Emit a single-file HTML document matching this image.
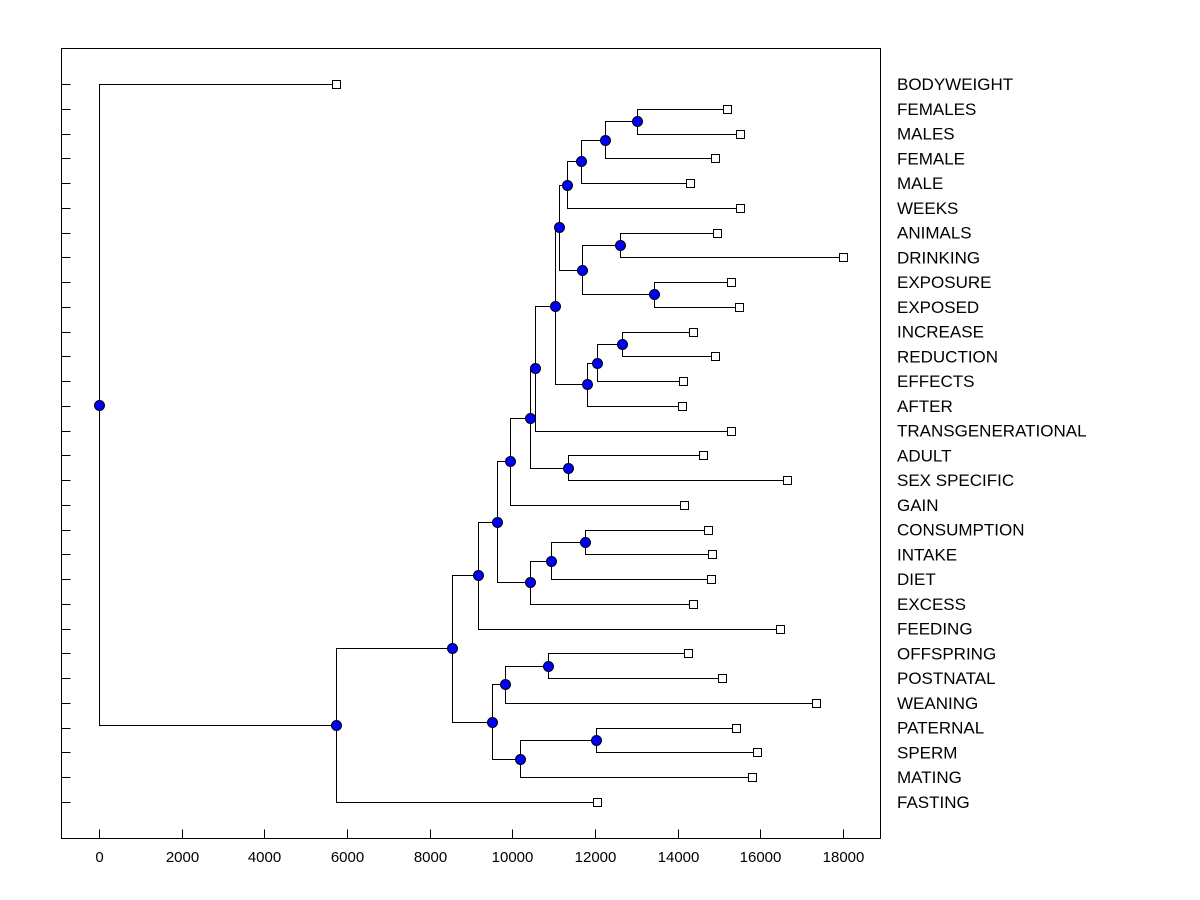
<!DOCTYPE html>
<html><head><meta charset="utf-8"><style>
body{margin:0;background:#fff}
svg{display:block;font-family:"Liberation Sans",Arial,sans-serif}
</style></head><body>
<svg id="c" width="1200" height="900" xmlns="http://www.w3.org/2000/svg"></svg>
<script>
const leafLabels=["BODYWEIGHT","FEMALES","MALES","FEMALE","MALE","WEEKS","ANIMALS","DRINKING","EXPOSURE","EXPOSED","INCREASE","REDUCTION","EFFECTS","AFTER","TRANSGENERATIONAL","ADULT","SEX SPECIFIC","GAIN","CONSUMPTION","INTAKE","DIET","EXCESS","FEEDING","OFFSPRING","POSTNATAL","WEANING","PATERNAL","SPERM","MATING","FASTING"];
const leafValues=[5734,15200,15500,14900,14300,15500,14950,18000,15300,15480,14370,14900,14130,14100,15290,14610,16650,14150,14730,14830,14810,14370,16480,14250,15070,17350,15410,15920,15800,12050];
const nodeNames=["R","Q","P","N","S","T","O","L","V","U","M","K","I","J","H","F","X","W","G","E","C","AA","Y","BB","Z","D","B","A","root"];
const nodeHeights=[13020,12240,11660,11320,12600,13430,11690,11130,12650,12050,11810,11030,10550,11350,10430,9945,11760,10940,10430,9630,9170,10860,9820,12020,10190,9510,8540,5734,0];
const nodeChildren=[[1,2],["R",3],["Q",4],["P",5],[6,7],[8,9],["S","T"],["N","O"],[10,11],["V",12],["U",13],["L","M"],["K",14],[15,16],["I","J"],["H",17],[18,19],["X",20],["W",21],["F","G"],["E",22],[23,24],["AA",25],[26,27],["BB",28],["Y","Z"],["C","D"],["B",29],[0,"A"]];
const xTicks=[0,2000,4000,6000,8000,10000,12000,14000,16000,18000];

const NS="http://www.w3.org/2000/svg",svg=document.getElementById('c');
const L=61.5,R=880.5,T=48.5,B=838.5;
const X=v=>Math.round(99+v*744/18000)+0.5;
const Yr=i=>84+i*(802-84)/29;
const P=y=>Math.round(y)+0.5;
function mk(t,a,p){const e=document.createElementNS(NS,t);for(const k in a)e.setAttribute(k,a[k]);(p||svg).appendChild(e);return e;}
const frame=mk('rect',{x:L,y:T,width:R-L,height:B-T,fill:'none',stroke:'#000','stroke-width':1});


const gx=mk('g',{});


xTicks.forEach(v=>{
  mk('line',{x1:X(v),x2:X(v),y1:B,y2:B-9,stroke:'#000'},gx);
  const t=mk('text',{x:X(v),y:862,'text-anchor':'middle','font-size':15},gx);t.textContent=v;
  
  
});
const gy=mk('g',{});


leafLabels.forEach((s,i)=>{
  mk('line',{x1:L,x2:L+9,y1:P(Yr(i)),y2:P(Yr(i)),stroke:'#000'},gy);
  const t=mk('text',{x:897,y:Yr(i)+6,'font-size':17},gy);t.textContent=s;
  
  
});
const pos={};
leafValues.forEach((v,i)=>pos[i]={x:X(v),y:Yr(i)});
nodeNames.forEach((n,k)=>{
  const [a,b]=nodeChildren[k];
  pos[n]={x:X(nodeHeights[k]),y:(pos[a].y+pos[b].y)/2,a:a,b:b};
});
const gl=mk('g',{stroke:'#000','stroke-width':1,fill:'none'});


nodeNames.forEach(n=>{
  const p=pos[n],a=pos[p.a],b=pos[p.b];
  mk('path',{d:`M${a.x},${P(a.y)}H${p.x}V${P(b.y)}H${b.x}`},gl);
});
const gs=mk('g',{});


leafValues.forEach((v,i)=>{
  const r=mk('rect',{x:pos[i].x-4,y:P(pos[i].y)-4,width:8,height:8,fill:'#fff',stroke:'#000'},gs);
  
  
});
const gn=mk('g',{});


nodeNames.forEach(n=>{
  const c=mk('circle',{cx:pos[n].x,cy:P(pos[n].y),r:5,fill:'#0000ff',stroke:'#000','stroke-width':1},gn);
  
  
});
</script>
</body></html>
